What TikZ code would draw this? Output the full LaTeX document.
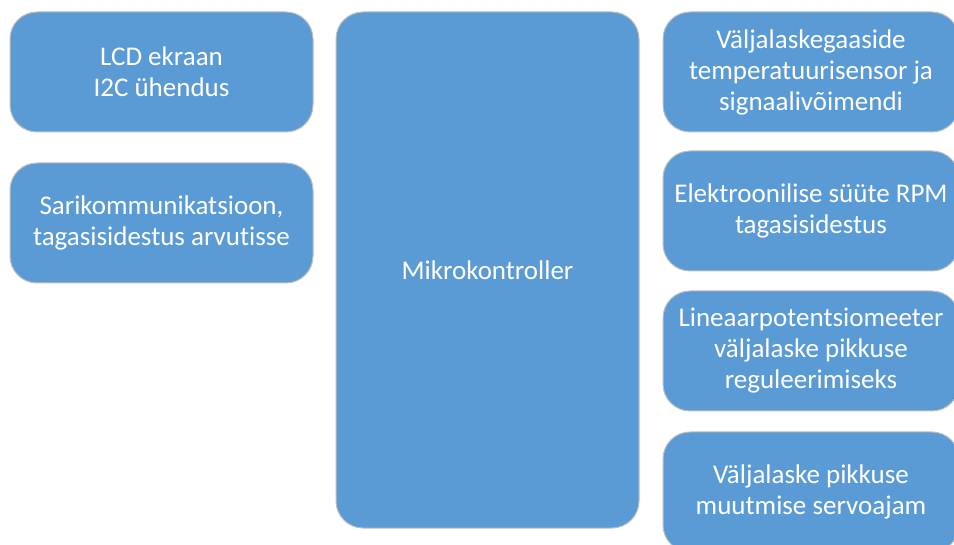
\documentclass[tikz,border=0pt]{standalone}
\usepackage{fontspec}
\setmainfont[Ligatures=NoCommon]{Carlito}
\definecolor{boxblue}{HTML}{5B9BD5}
\definecolor{boxline}{HTML}{BFBFBF}
\tikzset{
	block/.style={rectangle, rounded corners=27pt, fill=boxblue, draw=boxline, line width=1pt,
		text=white, align=center, inner sep=0pt, minimum width=303pt, minimum height=120pt,
		font=\fontsize{27}{31}\selectfont}
}
\begin{document}
\begin{tikzpicture}[x=1pt,y=-1pt]
	\useasboundingbox (0,0) rectangle (954,545);
	\node[block] at (161.5,72) (lcd) {LCD ekraan\\I2C ühendus};
	\node[block] at (161.5,223) (serial) {Sarikommunikatsioon,\\tagasisidestus arvutisse};
	\node[block, minimum height=516pt] at (487.5,270) (mcu) {Mikrokontroller};
	\node[block, minimum width=296pt] at (811,72) (temp) {Väljalaskegaaside\\temperatuurisensor ja\\signaalivõimendi};
	\node[block, minimum width=296pt] at (811,211) (rpm) {Elektroonilise süüte RPM\\tagasisidestus};
	\node[block, minimum width=296pt] at (811,351) (pot) {Lineaarpotentsiomeeter\\väljalaske pikkuse\\reguleerimiseks};
	\node[block, minimum width=296pt] at (811,492) (servo) {Väljalaske pikkuse\\muutmise servoajam};
\end{tikzpicture}
\end{document}
